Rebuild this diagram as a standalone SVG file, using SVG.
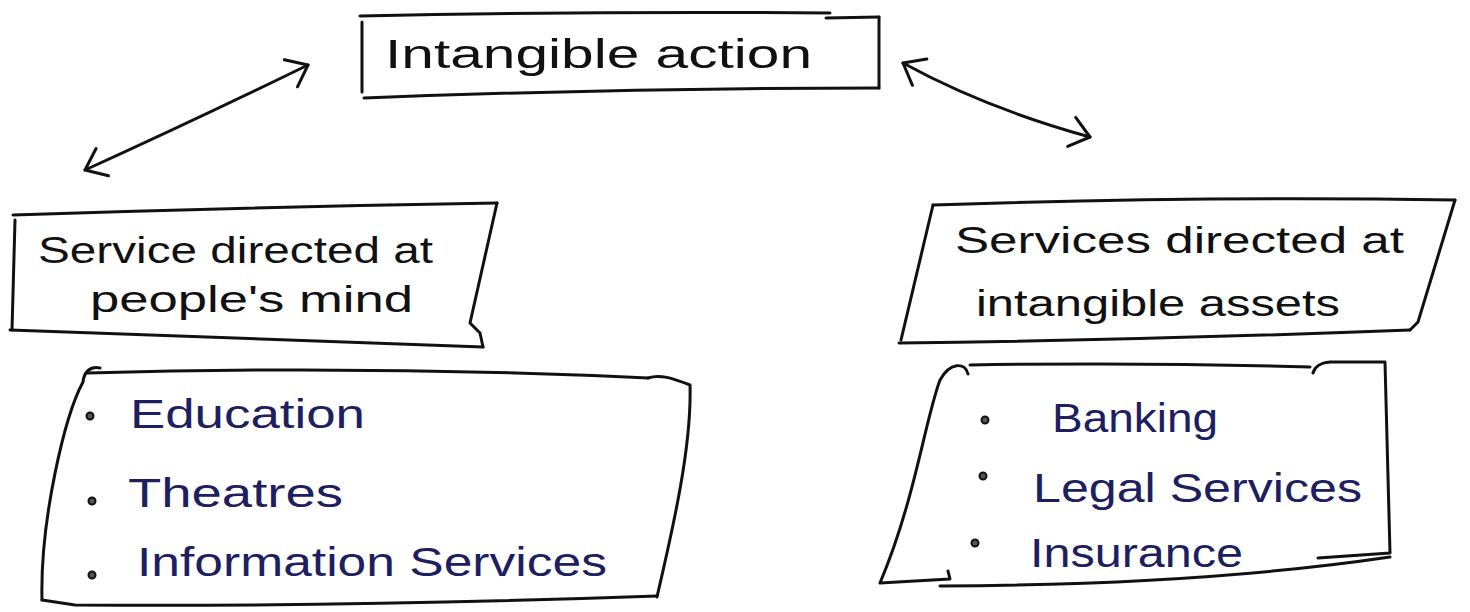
<svg xmlns="http://www.w3.org/2000/svg" width="1470" height="612" viewBox="0 0 1470 612">
  <defs>
    <style>
      .ink { fill: none; stroke: #111; stroke-width: 3; stroke-linecap: round; stroke-linejoin: round; }
      .head { font-family: "Liberation Sans", Arial, sans-serif; fill: #111; }
      .item { font-family: "Liberation Sans", Arial, sans-serif; fill: #1d2060; }
      .dot { fill: #555; stroke: #111; stroke-width: 2; }
    </style>
    <!-- open hand-drawn style arrowhead, used at both ends -->
    <marker id="vhead" markerUnits="userSpaceOnUse" viewBox="-26 -20 30 40" refX="0" refY="0"
            markerWidth="30" markerHeight="40" orient="auto-start-reverse">
      <path d="M -19 -15 L 0 0 L -19 15" fill="none" stroke="#111" stroke-width="3"
            stroke-linecap="round" stroke-linejoin="round"/>
    </marker>
  </defs>

  <rect x="0" y="0" width="1470" height="612" fill="#ffffff"/>

  <!-- top node -->
  <g id="intangible-action">
    <path class="ink" d="M 360 16 Q 600 11 830 13"/>
    <path class="ink" d="M 826 18 L 879 17"/>
    <path class="ink" d="M 362 22 L 362 92"/>
    <path class="ink" d="M 364 98 Q 620 88 879 88"/>
    <path class="ink" d="M 879 17 L 879 88"/>
    <text class="head" x="385" y="68" font-size="40" textLength="427" lengthAdjust="spacingAndGlyphs">Intangible action</text>
  </g>

  <!-- left category -->
  <g id="people-mind">
    <path class="ink" d="M 13 215 Q 250 207 497 203"/>
    <path class="ink" d="M 15 220 L 12 330"/>
    <path class="ink" d="M 10 330 Q 250 338 483 347"/>
    <path class="ink" d="M 497 203 L 470 323 L 480 333 L 483 347"/>
    <text class="head" x="38" y="263" font-size="36" textLength="395" lengthAdjust="spacingAndGlyphs">Service directed at</text>
    <text class="head" x="90" y="312" font-size="36" textLength="323" lengthAdjust="spacingAndGlyphs">people's mind</text>
  </g>

  <!-- right category -->
  <g id="intangible-assets">
    <path class="ink" d="M 933 205 Q 1200 196 1455 200"/>
    <path class="ink" d="M 933 205 L 901 340"/>
    <path class="ink" d="M 899 343 Q 1150 340 1410 330"/>
    <path class="ink" d="M 1455 200 L 1418 322 L 1410 330"/>
    <text class="head" x="955" y="253" font-size="36" textLength="449" lengthAdjust="spacingAndGlyphs">Services directed at</text>
    <text class="head" x="976" y="316" font-size="36" textLength="364" lengthAdjust="spacingAndGlyphs">intangible assets</text>
  </g>

  <!-- left examples -->
  <g id="people-mind-examples">
    <path class="ink" d="M 87 373 Q 370 365 648 378"/>
    <path class="ink" d="M 100 368 C 90 366 84 372 83 382 C 65 415 40 520 42 600"/>
    <path class="ink" d="M 42 600 L 75 605 Q 350 607 657 596"/>
    <path class="ink" d="M 648 378 C 660 374 672 378 690 385 C 692 450 670 540 657 597"/>
    <circle class="dot" cx="90" cy="416" r="3.5"/>
    <circle class="dot" cx="92" cy="501" r="3.5"/>
    <circle class="dot" cx="92" cy="575" r="3.5"/>
    <text class="item" x="130" y="428" font-size="40" textLength="235" lengthAdjust="spacingAndGlyphs">Education</text>
    <text class="item" x="128" y="507" font-size="40" textLength="215" lengthAdjust="spacingAndGlyphs">Theatres</text>
    <text class="item" x="137" y="576" font-size="40" textLength="470" lengthAdjust="spacingAndGlyphs">Information Services</text>
  </g>

  <!-- right examples -->
  <g id="intangible-assets-examples">
    <path class="ink" d="M 970 365 Q 1140 362 1310 367"/>
    <path class="ink" d="M 968 374 C 965 362 950 362 940 380 C 925 420 915 500 880 583 L 950 579 L 948 571"/>
    <path class="ink" d="M 940 586 Q 1200 585 1390 557"/>
    <path class="ink" d="M 1313 373 C 1315 366 1320 363 1330 362 L 1385 362 L 1390 553 L 1318 558"/>
    <circle class="dot" cx="985" cy="420" r="3.5"/>
    <circle class="dot" cx="983" cy="476" r="3.5"/>
    <circle class="dot" cx="975" cy="543" r="3.5"/>
    <text class="item" x="1052" y="432" font-size="40" textLength="166" lengthAdjust="spacingAndGlyphs">Banking</text>
    <text class="item" x="1033" y="502" font-size="40" textLength="329" lengthAdjust="spacingAndGlyphs">Legal Services</text>
    <text class="item" x="1030" y="567" font-size="40" textLength="213" lengthAdjust="spacingAndGlyphs">Insurance</text>
  </g>

  <!-- two-way links from the top node -->
  <g id="connectors">
    <path class="ink" d="M 85 170 Q 195 120 308 65" marker-start="url(#vhead)" marker-end="url(#vhead)"/>
    <path class="ink" d="M 903 63 Q 985 108 1090 137" marker-start="url(#vhead)" marker-end="url(#vhead)"/>
  </g>
</svg>
